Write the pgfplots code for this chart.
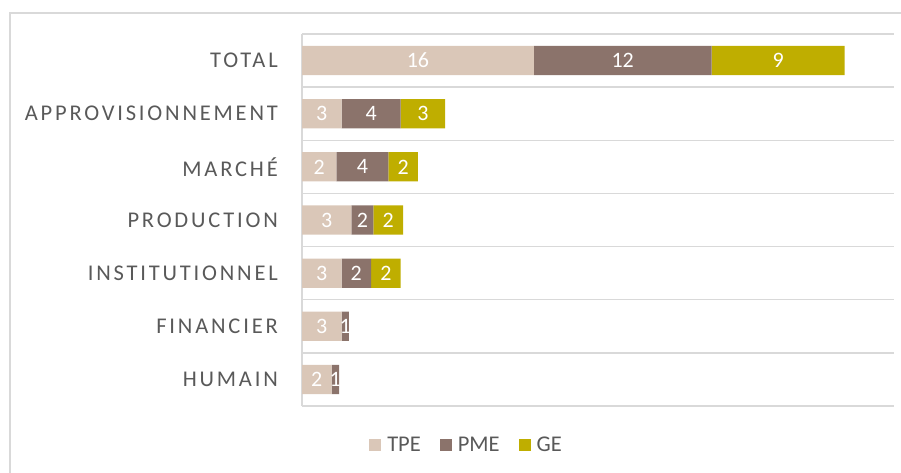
\documentclass[border=0pt]{standalone}
\usepackage{pgfplots}
\pgfplotsset{compat=1.18}
\usepackage{fontspec}
\setmainfont{Carlito}
\newfontfamily\spaced[LetterSpace=12.5]{Carlito}
\definecolor{tpe}{HTML}{DAC7B8}
\definecolor{pme}{HTML}{8B736B}
\definecolor{ge}{HTML}{BFAE00}
\definecolor{gridc}{HTML}{D9D9D9}
\definecolor{txt}{HTML}{595959}
\begin{document}
\begin{tikzpicture}[x=1pt,y=1pt]
\useasboundingbox (0,0) rectangle (901,472);
\draw[color=gridc, line width=1.5pt] (10,-20) rectangle (930,459);
\begin{axis}[
  at={(302pt,66pt)}, anchor=south west,
  scale only axis, width=592pt, height=372pt,
  xbar stacked, bar width=0.55,
  xmin=0, xmax=40, ymin=-0.5, ymax=6.5,
  enlargelimits=false,
  axis lines*=left,
  x axis line style={draw=none},
  y axis line style={draw=gridc, line width=1.5pt},
  xtick=\empty,
  ytick={0,1,2,3,4,5,6},
  yticklabels={HUMAIN,FINANCIER,INSTITUTIONNEL,PRODUCTION,MARCHÉ,APPROVISIONNEMENT,TOTAL},
  major tick length=0pt, minor tick length=0pt,
  minor ytick={-0.5,0.5,1.5,2.5,3.5,4.5,5.5,6.5},
  yminorgrids=true,
  minor grid style={draw=gridc, line width=1.5pt},
  yticklabel style={font=\fontsize{22.5}{26}\spaced, text=txt, inner sep=0pt, xshift=-24pt},
  point meta=explicit symbolic,
  nodes near coords,
  every node near coord/.append style={font=\fontsize{22}{26}\selectfont, text=white, anchor=center},
  legend columns=3,
  legend style={at={(0.278,-0.105)}, anchor=center, draw=none, fill=none,
    font=\fontsize{22.5}{26}\selectfont, text=txt,
    /tikz/every odd column/.append style={column sep=4pt},
    /tikz/every even column/.append style={column sep=17pt}},
  legend image code/.code={\fill[#1] (0pt,-6pt) rectangle (12pt,6pt);},
]
\addplot[fill=tpe, draw=none] coordinates {
 (2,0)[2] (2.67,1)[3] (2.67,2)[3] (3.33,3)[3] (2.33,4)[2] (2.67,5)[3] (15.67,6)[16]};
\addplot[fill=pme, draw=none] coordinates {
 (0.5,0)[1] (0.5,1)[1] (2,2)[2] (1.5,3)[2] (3.5,4)[4] (4,5)[4] (12,6)[12]};
\addplot[fill=ge, draw=none] coordinates {
 (0,0)[] (0,1)[] (2,2)[2] (2,3)[2] (2,4)[2] (3,5)[3] (9,6)[9]};
\legend{TPE,PME,GE}
\end{axis}
\end{tikzpicture}
\end{document}
